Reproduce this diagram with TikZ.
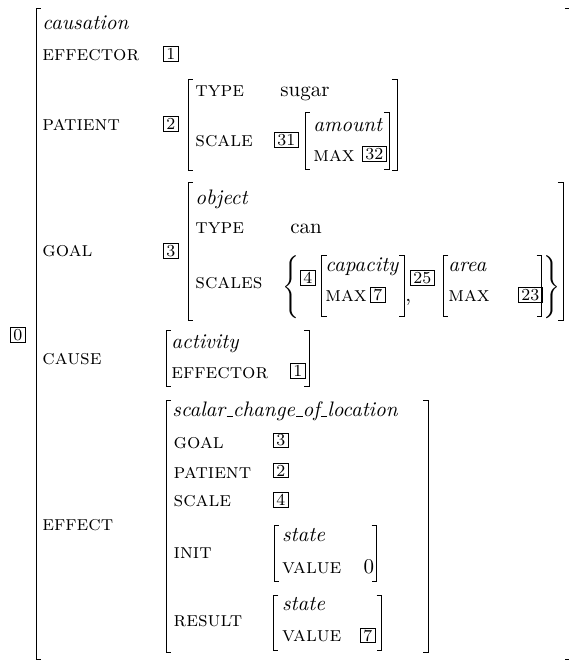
\documentclass[tikz,border=0pt]{standalone}
\usepackage{amsmath}

\newcommand{\us}{\kern.06em\rule{.3em}{.4pt}}

\begin{document}
\begin{tikzpicture}[x = 0.4762pt, y = -0.4762pt,
	feat/.style = {anchor = base west, inner sep = 0pt, font = \scshape},
	sort/.style = {anchor = base west, inner sep = 0pt, font = \itshape},
	val/.style = {anchor = base west, inner sep = 0pt},
	tag/.style = {draw, anchor = south west, inner xsep = 1.4pt, inner ysep = 0.9pt,
		line width = 0.4pt, font = \footnotesize, text height = 5.3pt, text depth = 0pt},
	brk/.style = {line width = 0.45pt}]

	\useasboundingbox (0, 0) rectangle (569, 660);

	% Outer matrix

	\node [tag] (t0) at (10, 343) {0};
	\draw [brk] (41, 8.5) -- (36, 8.5) -- (36, 659) -- (41, 659);
	\draw [brk] (565, 8.5) -- (570, 8.5) -- (570, 659) -- (565, 659);

	\node [sort] (causation) at (42, 29.5) {causation};
	\node [feat] (effector) at (42, 60) {effector};
	\node [tag] (t1) at (163, 62) {1};
	\node [feat] (patient) at (42, 130) {patient};
	\node [tag] (t2) at (163, 132) {2};
	\node [feat] (goal) at (42, 256.7) {goal};
	\node [tag] (t3) at (163, 259) {3};
	\node [feat] (cause) at (42, 364.3) {cause};
	\node [feat] (effect) at (42, 530.7) {effect};

	% Patient value

	\draw [brk] (193, 79) -- (188, 79) -- (188, 170) -- (193, 170);
	\draw [brk] (392, 79) -- (397, 79) -- (397, 170) -- (392, 170);
	\node [feat] (ptype) at (195, 96.7) {type};
	\node [val] (sugar) at (280, 96.7) {sugar};
	\node [feat] (pscale) at (195, 146.7) {scale};
	\node [tag] (t31) at (274, 148) {31};
	\draw [brk] (310, 112) -- (305, 112) -- (305, 169) -- (310, 169);
	\draw [brk] (384, 112) -- (389, 112) -- (389, 169) -- (384, 169);
	\node [sort] (amount) at (313, 131.7) {amount};
	\node [feat] (amax) at (313, 161.7) {max};
	\node [tag] (t32) at (362, 162) {32};

	% Goal value

	\draw [brk] (193, 182) -- (188, 182) -- (188, 320) -- (193, 320);
	\draw [brk] (558, 182) -- (563, 182) -- (563, 320) -- (558, 320);
	\node [sort] (object) at (195, 204) {object};
	\node [feat] (gtype) at (195, 233.3) {type};
	\node [val] (can) at (290, 233.3) {can};
	\node [feat] (scales) at (195, 288.3) {scales};
	\node [inner sep = 0pt] (lbrace) at (290.5, 287) {$\Bigg\{$};
	\node [inner sep = 0pt] (rbrace) at (551.5, 287) {$\Bigg\}$};

	\node [tag] (t4) at (300, 286) {4};
	\draw [brk] (326.7, 255) -- (321.7, 255) -- (321.7, 316.5) -- (326.7, 316.5);
	\draw [brk] (399.3, 255) -- (404.3, 255) -- (404.3, 316.5) -- (399.3, 316.5);
	\node [sort] (capacity) at (325, 271.7) {capacity};
	\node [feat] (cmax) at (325, 301.7) {max};
	\node [tag] (t7) at (370, 302.7) {7};
	\node [val] (comma) at (405, 301.7) {,};

	\node [tag] (t25) at (410, 286) {25};
	\draw [brk] (448.3, 255) -- (443.3, 255) -- (443.3, 316.5) -- (448.3, 316.5);
	\draw [brk] (536.7, 255) -- (541.7, 255) -- (541.7, 316.5) -- (536.7, 316.5);
	\node [sort] (area) at (448, 271.7) {area};
	\node [feat] (amax2) at (448, 301.7) {max};
	\node [tag] (t23) at (518, 302.7) {23};

	% Cause value

	\draw [brk] (171, 330) -- (166, 330) -- (166, 386) -- (171, 386);
	\draw [brk] (304.3, 330) -- (309.3, 330) -- (309.3, 386) -- (304.3, 386);
	\node [sort] (activity) at (171, 348.3) {activity};
	\node [feat] (ceffector) at (171, 378.3) {effector};
	\node [tag] (ct1) at (290, 379) {1};

	% Effect value

	\draw [brk] (171, 400) -- (166, 400) -- (166, 652) -- (171, 652);
	\draw [brk] (423.5, 400) -- (428.5, 400) -- (428.5, 652) -- (423.5, 652);
	\node [sort] (scl) at (172, 416.7) {scalar\us change\us of\us location};
	\node [feat] (egoal) at (173.3, 448.3) {goal};
	\node [tag] (et3) at (273, 448.3) {3};
	\node [feat] (epatient) at (173.3, 478.3) {patient};
	\node [tag] (et2) at (273, 478.3) {2};
	\node [feat] (escale) at (173.3, 506.7) {scale};
	\node [tag] (et4) at (273, 508) {4};

	\node [feat] (init) at (173.3, 558.3) {init};
	\draw [brk] (279, 525) -- (274, 525) -- (274, 581.7) -- (279, 581.7);
	\draw [brk] (371.7, 525) -- (376.7, 525) -- (376.7, 581.7) -- (371.7, 581.7);
	\node [sort] (istate) at (281.7, 541.7) {state};
	\node [feat] (ivalue) at (281.7, 573.3) {value};
	\node [val] (zero) at (363.3, 573.3) {0};

	\node [feat] (result) at (173.3, 626.7) {result};
	\draw [brk] (278.3, 595) -- (273.3, 595) -- (273.3, 650) -- (278.3, 650);
	\draw [brk] (376.7, 595) -- (381.7, 595) -- (381.7, 650) -- (376.7, 650);
	\node [sort] (rstate) at (281.7, 610) {state};
	\node [feat] (rvalue) at (281.7, 641.7) {value};
	\node [tag] (rt7) at (360, 643.3) {7};

\end{tikzpicture}
\end{document}
